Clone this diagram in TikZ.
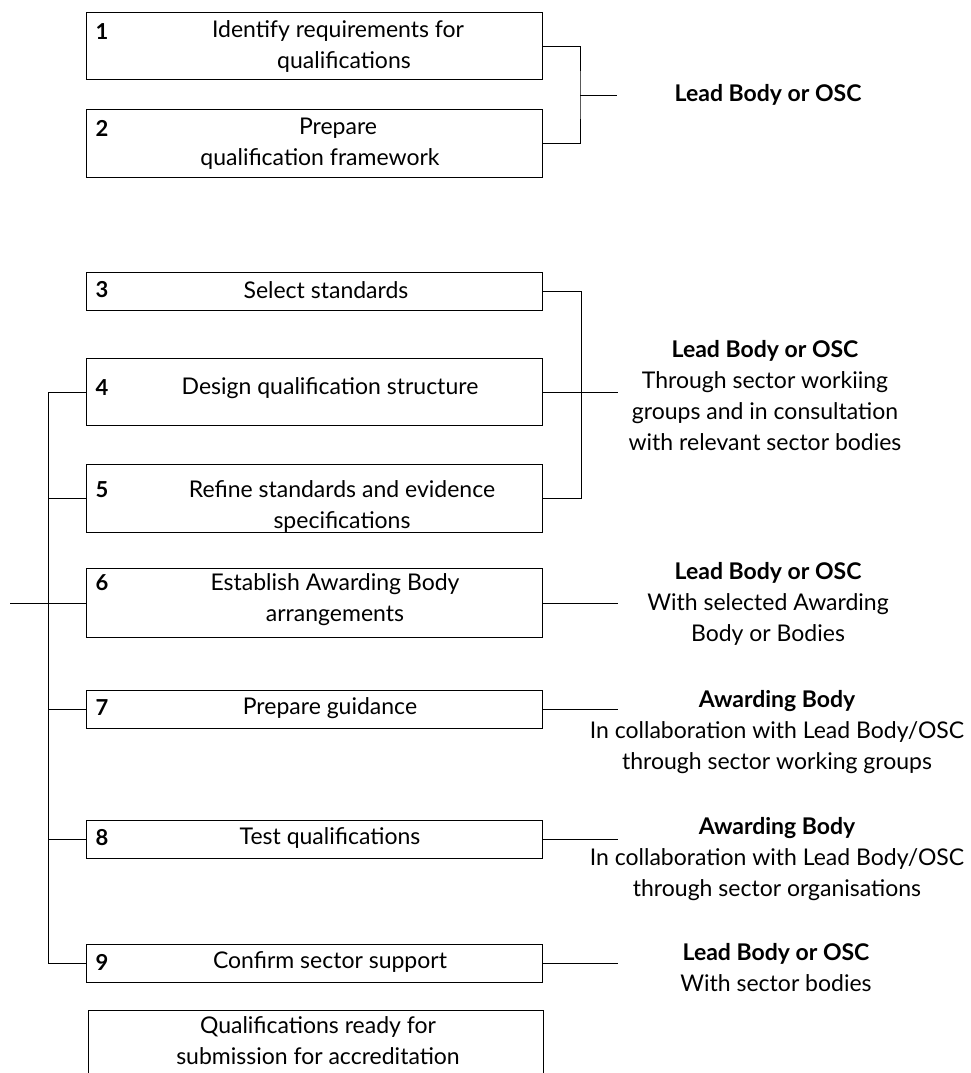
\documentclass[tikz,border=0pt]{standalone}
\usepackage{fontspec}
\setmainfont{Lato}
\begin{document}
\begin{tikzpicture}[x=1pt,y=-1pt,
  box/.style={draw, line width=1.1pt, inner sep=0pt, anchor=north west, minimum width=456pt},
  conn/.style={line width=0.9pt},
  txt/.style={font=\fontsize{23}{31}\selectfont, inner sep=0pt, align=center},
  num/.style={font=\fontsize{22}{24}\selectfont\bfseries, inner sep=0pt},
  lab/.style={font=\fontsize{23}{31}\selectfont, inner sep=0pt, align=center}
]
\useasboundingbox (0,0) rectangle (970,1073);

% boxes
\node[box, minimum height=67pt] (b1) at (86,12) {};
\node[box, minimum height=68pt] (b2) at (86,109) {};
\node[box, minimum height=38pt] (b3) at (86,272) {};
\node[box, minimum height=67pt] (b4) at (86,358) {};
\node[box, minimum height=68pt] (b5) at (86,464) {};
\node[box, minimum height=69pt] (b6) at (86,568) {};
\node[box, minimum height=38pt] (b7) at (86,690) {};
\node[box, minimum height=38pt] (b8) at (86,820) {};
\node[box, minimum height=38pt] (b9) at (86,944) {};
\node[box, minimum width=455pt, minimum height=90pt] (bf) at (88,1010) {};

% numbers
\node[num] (n1) at (102,32) {1};
\node[num] (n2) at (102,128) {2};
\node[num] (n3) at (102,290) {3};
\node[num] (n4) at (102,388) {4};
\node[num] (n5) at (102,490) {5};
\node[num] (n6) at (102,583) {6};
\node[num] (n7) at (102,708) {7};
\node[num] (n8) at (102,838) {8};
\node[num] (n9) at (102,962) {9};

% box texts
\node[txt] (t1) at (338,47) {Identify requirements for\\\hspace{12pt}qualifications};
\node[txt] (t2) at (320,144) {\hspace{36pt}Prepare\\qualification framework};
\node[txt] (t3) at (326,290) {Select standards};
\node[txt] (t4) at (330,388) {Design qualification structure};
\node[txt] (t5) at (342,506) {Refine standards and evidence\\specifications};
\node[txt] (t6) at (335,600) {Establish Awarding Body\\arrangements};
\node[txt] (t7) at (330,708) {Prepare guidance};
\node[txt] (t8) at (330,838) {Test qualifications};
\node[txt] (t9) at (330,962) {Confirm sector support};
\node[txt] (tf) at (318,1041) {Qualifications ready for\\submission for accreditation};

% right labels
\node[lab] (l12) at (768,95) {\bfseries Lead Body or OSC};
\node[lab] (l35) at (765,396) {{\bfseries Lead Body or OSC}\\Through sector workiing\\groups and in consultation\\with relevant sector bodies};
\node[lab] (l6) at (768,604) {{\bfseries Lead Body or OSC}\\With selected Awarding\\Body or Bodies};
\node[lab] (l7) at (777,732) {{\bfseries Awarding Body}\\In collaboration with Lead Body/OSC\\through sector working groups};
\node[lab] (l8) at (777,859) {{\bfseries Awarding Body}\\In collaboration with Lead Body/OSC\\through sector organisations};
\node[lab] (l9) at (776,968) {{\bfseries Lead Body or OSC}\\With sector bodies};

% right connectors
\coordinate (k12) at (580,95);
\coordinate (e12) at (617,95);
\draw[conn] (b1.east) -| (k12) |- (b2.east);
\draw[conn] (k12) -- (e12);
\draw[conn] (b3.east) -- ++(38,0) |- (b5.east);
\draw[conn] (b4.east) -- ++(75,0);
\draw[conn] (b6.east) -- ++(75,0);
\draw[conn] (b7.east) -- ++(75,0);
\draw[conn] (b8.east) -- ++(75,0);
\draw[conn] (b9.east) -- ++(75,0);

% left trunk
\draw[conn] (b4.west) -- ++(-38,0) |- (b9.west);
\draw[conn] (b5.west) -- ++(-38,0);
\draw[conn] (b6.west) -- ++(-76,0);
\draw[conn] (b7.west) -- ++(-38,0);
\draw[conn] (b8.west) -- ++(-38,0);
\end{tikzpicture}
\end{document}
